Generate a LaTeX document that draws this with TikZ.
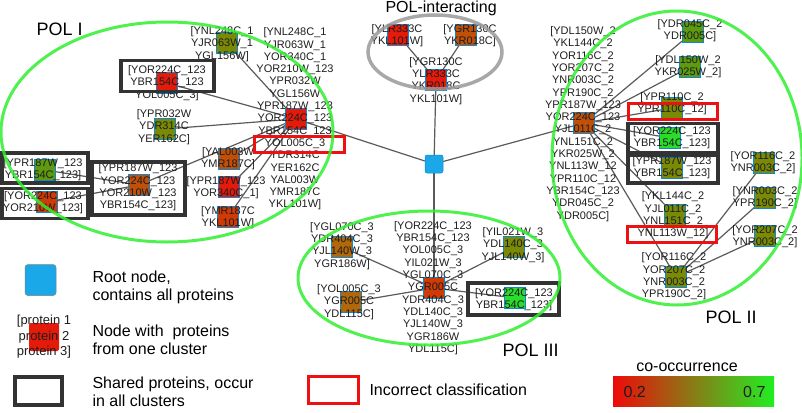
\documentclass[tikz,border=0pt]{standalone}
\usepackage{fontspec}
\setmainfont{Liberation Sans}
\usetikzlibrary{backgrounds}

\definecolor{rootblue}{HTML}{1AA8E8}
\definecolor{ellgreen}{HTML}{30EE30}
\definecolor{ellgray}{HTML}{999999}
\definecolor{edgegray}{HTML}{5A5A5A}
\definecolor{boxgray}{HTML}{333333}
\definecolor{wrongred}{HTML}{EE1111}
\definecolor{txt}{HTML}{1E1E1E}
\definecolor{occA}{HTML}{E41A0A}
\definecolor{occB}{HTML}{D03A05}
\definecolor{occC}{HTML}{C05008}
\definecolor{occD}{HTML}{B0680A}
\definecolor{occE}{HTML}{7A8A05}
\definecolor{occF}{HTML}{5E9A10}
\definecolor{occG}{HTML}{2ADD2A}
\definecolor{barred}{HTML}{EE0A0A}
\definecolor{bargreen}{HTML}{22EE22}

\newcommand{\genefont}{\fontsize{11}{12.3}\selectfont}
\newcommand{\titlefont}{\fontsize{18}{20}\selectfont}
\newcommand{\legfont}{\fontsize{16}{18}\selectfont}

\begin{document}
\begin{tikzpicture}[x=1pt,y=-1pt,
  clnode/.style={draw=cyan!70!blue,line width=0.5pt,fill=#1,minimum size=21pt,inner sep=0pt},
  genes/.style={font=\genefont,align=center,inner sep=0pt,text=txt},
  link/.style={draw=edgegray,line width=1.2pt},
  shared/.style={draw=boxgray,line width=3.5pt,inner sep=0pt},
  wrong/.style={draw=wrongred,line width=3pt,inner sep=0pt},
  cluster/.style={draw=ellgreen,line width=3pt,opacity=0.85}]
  \useasboundingbox (0,0) rectangle (802,412);

  % root and cluster centres
  \node[clnode=rootblue,minimum size=18pt,rounded corners=2pt] (r) at (434,164) {};
  \node[clnode=occA] (p1c) at (296,119) {};
  \node[clnode=occA] (pic) at (436,80) {};
  \node[clnode=occC] (p2c) at (584,123) {};
  \node[clnode=occB] (p3c) at (434,288) {};

  % POL I
  \node[clnode=occE] (p1a) at (227,43) {};
  \node[clnode=occA] (p1b) at (167,83) {};
  \node[clnode=occE] (p1d) at (165,129) {};
  \node[clnode=occC] (p1e) at (229,159) {};
  \node[clnode=occA] (p1f) at (229,187) {};
  \node[clnode=occB] (p1g) at (228,217) {};
  \node[clnode=occC] (p1h) at (139,185) {};
  \node[clnode=occF] (p1i) at (45,170) {};
  \node[clnode=occB] (p1j) at (47,202) {};

  % POL-interacting
  \node[clnode=occA] (pia) at (398,35) {};
  \node[clnode=occC] (pib) at (466,35) {};

  % POL II
  \node[clnode=occF] (p2a) at (693,32) {};
  \node[clnode=occF] (p2b) at (690,67) {};
  \node[clnode=occE] (p2d) at (672,108) {};
  \node[clnode=occG] (p2e) at (670,138) {};
  \node[clnode=occE] (p2f) at (672,168) {};
  \node[clnode=occE] (p2g) at (675,215) {};
  \node[clnode=occE] (p2h) at (676,277) {};
  \node[clnode=occE] (p2i) at (764,163) {};
  \node[clnode=occE] (p2j) at (765,198) {};
  \node[clnode=occE] (p2k) at (765,236) {};

  % POL III
  \node[clnode=occD] (p3a) at (342,247) {};
  \node[clnode=occD] (p3b) at (351,302) {};
  \node[clnode=occE] (p3d) at (514,247) {};
  \node[clnode=occG] (p3e) at (515,298) {};

  \begin{scope}[on background layer]
    \draw[link] (r) -- (p1c);
    \draw[link] (r) -- (pic);
    \draw[link] (r) -- (p2c);
    \draw[link] (r) -- (p3c);
    \foreach \n in {p1a,p1b,p1d,p1e,p1f,p1g,p1h}
      \draw[link] (p1c) -- (\n);
    \draw[link] (p1h) -- (p1i);
    \draw[link] (p1h) -- (p1j);
    \draw[link] (pic) -- (pia);
    \draw[link] (pic) -- (pib);
    \foreach \n in {p2a,p2b,p2d,p2e,p2f,p2g,p2h}
      \draw[link] (p2c) -- (\n);
    \foreach \n in {p2i,p2j,p2k}
      \draw[link] (p2h) -- (\n);
    \foreach \n in {p3a,p3b,p3d,p3e}
      \draw[link] (p3c) -- (\n);
  \end{scope}

  % protein lists
  \node[genes] at (295,119) {[YNL248C\_1\\YJR063W\_1\\YOR340C\_1\\YOR210W\_123\\YPR032W\\YGL156W\\YPR187W\_123\\YOR224C\_123\\YBR154C\_123\\YOL005C\_3\\YDR314C\\YER162C\\YAL003W\\YMR187C\\YKL101W]};
  \node[genes] at (222,44) {[YNL248C\_1\\YJR063W\_1\\YGL156W]};
  \node[genes] at (167,83) {[YOR224C\_123\\YBR154C\_123\\YOL005C\_3]};
  \node[genes] at (164,127) {[YPR032W\\YDR314C\\YER162C]};
  \node[genes] at (228,159) {[YAL003W\\YMR187C]};
  \node[genes] at (226,187.5) {[YPR187W\_123\\YOR340C\_1]};
  \node[genes] at (228,218) {[YMR187C\\YKL101W]};
  \node[genes] at (138,187.5) {[YPR187W\_123\\YOR224C\_123\\YOR210W\_123\\YBR154C\_123]};
  \node[genes] at (43,169.5) {[YPR187W\_123\\YBR154C\_123]};
  \node[genes] at (43,203) {[YOR224C\_123\\YOR210W\_123]};

  \node[genes] at (436,81) {[YGR130C\\YLR333C\\YKR018C\\YKL101W]};
  \node[genes] at (397,36) {[YLR333C\\YKL101W]};
  \node[genes] at (470,36) {[YGR130C\\YKR018C]};

  \node[genes] at (583,124) {[YDL150W\_2\\YKL144C\_2\\YOR116C\_2\\YOR207C\_2\\YNR003C\_2\\YPR190C\_2\\YPR187W\_123\\YOR224C\_123\\YJL011C\_2\\YNL151C\_2\\YKR025W\_2\\YNL113W\_12\\YPR110C\_12\\YBR154C\_123\\YDR045C\_2\\YDR005C]};
  \node[genes] at (690,31) {[YDR045C\_2\\YDR005C]};
  \node[genes] at (688,67) {[YDL150W\_2\\YKR025W\_2]};
  \node[genes] at (672,104) {[YPR110C\_2\\YPR110C\_12]};
  \node[genes] at (672,138) {[YOR224C\_123\\YBR154C\_123]};
  \node[genes] at (672,167.5) {[YPR187W\_123\\YBR154C\_123]};
  \node[genes] at (673,215.5) {[YKL144C\_2\\YJL011C\_2\\YNL151C\_2\\YNL113W\_12]};
  \node[genes] at (674,276.5) {[YOR116C\_2\\YOR207C\_2\\YNR003C\_2\\YPR190C\_2]};
  \node[genes] at (763,162.5) {[YOR116C\_2\\YNR003C\_2]};
  \node[genes] at (765,198) {[YNR003C\_2\\YPR190C\_2]};
  \node[genes] at (765,236.5) {[YOR207C\_2\\YNR003C\_2]};

  \node[genes] at (433,288) {[YOR224C\_123\\YBR154C\_123\\YOL005C\_3\\YIL021W\_3\\YGL070C\_3\\YGR005C\\YDR404C\_3\\YDL140C\_3\\YJL140W\_3\\YGR186W\\YDL115C]};
  \node[genes] at (342,246) {[YGL070C\_3\\YDR404C\_3\\YJL140W\_3\\YGR186W]};
  \node[genes] at (349,302) {[YOL005C\_3\\YGR005C\\YDL115C]};
  \node[genes] at (513,245) {[YIL021W\_3\\YDL140C\_3\\YJL140W\_3]};
  \node[genes] at (514,299.5) {[YOR224C\_123\\YBR154C\_123]};

  % shared and misclassified proteins
  \node[shared,minimum width=93pt,minimum height=31pt] (s1) at (167.5,76) {};
  \node[shared,minimum width=93pt,minimum height=53pt] (s2) at (138.5,188.5) {};
  \node[shared,minimum width=86pt,minimum height=30pt] (s3) at (45,168) {};
  \node[shared,minimum width=86pt,minimum height=30pt] (s4) at (45,203.5) {};
  \node[shared,minimum width=90pt,minimum height=29pt] (s5) at (673,138) {};
  \node[shared,minimum width=90pt,minimum height=28pt] (s6) at (673,169) {};
  \node[shared,minimum width=91pt,minimum height=32pt] (s7) at (513.5,299) {};
  \node[wrong,minimum width=90pt,minimum height=16pt] (w1) at (299,144) {};
  \node[wrong,minimum width=89pt,minimum height=16pt] (w2) at (673,111) {};
  \node[wrong,minimum width=89pt,minimum height=16pt] (w3) at (672,234.5) {};

  % clusters
  \draw[cluster] (167,132) ellipse [x radius=166,y radius=110];
  \draw[cluster,draw=ellgray,line width=3.5pt] (435,52) ellipse [x radius=67,y radius=37];
  \draw[cluster] (677,158) ellipse [x radius=125,y radius=147];
  \draw[cluster] (429,278) ellipse [x radius=131,y radius=67];

  \node[font=\titlefont,anchor=base west] (t1) at (33,36) {POL I};
  \node[font=\fontsize{16}{18}\selectfont,anchor=base west] (t0) at (382,13) {POL-interacting};
  \node[font=\titlefont,anchor=base west] (t2) at (702,323) {POL II};
  \node[font=\titlefont,anchor=base west] (t3) at (499,356) {POL III};

  % legend
  \node[clnode=rootblue,minimum size=31pt,rounded corners=3pt,draw=gray] (lr) at (40.5,280) {};
  \node[font=\legfont,align=left,anchor=west] (lrt) at (89,287) {Root node,\\contains all proteins};
  \node[clnode=occA,minimum width=30pt,minimum height=28pt,draw=none,rounded corners=2pt] (lc) at (44,337) {};
  \node[font=\fontsize{13}{15.5}\selectfont,align=center,inner sep=0pt,text=txt] at (lc) {[protein 1\\protein 2\\protein 3]};
  \node[font=\legfont,align=left,anchor=west] (lct) at (89,339.5) {Node with~ proteins\\from one cluster};
  \node[shared,line width=4pt,minimum width=47pt,minimum height=28pt] (ls) at (38.5,391) {};
  \node[font=\legfont,align=left,anchor=west] (lst) at (89,391.5) {Shared proteins, occur\\in all clusters};
  \node[wrong,minimum width=50pt,minimum height=27pt] (lw) at (333.5,390) {};
  \node[font=\legfont,anchor=base west] (lwt) at (366,395) {Incorrect classification};
  \shade[left color=barred,right color=bargreen] (613,376) rectangle (774,406);
  \node[font=\legfont,anchor=base] (lbar) at (687,371) {co-occurrence};
  \node[font=\legfont,anchor=base west,text=txt] at (620,397) {0.2};
  \node[font=\legfont,anchor=base east,text=txt] at (769,397) {0.7};
\end{tikzpicture}
\end{document}
